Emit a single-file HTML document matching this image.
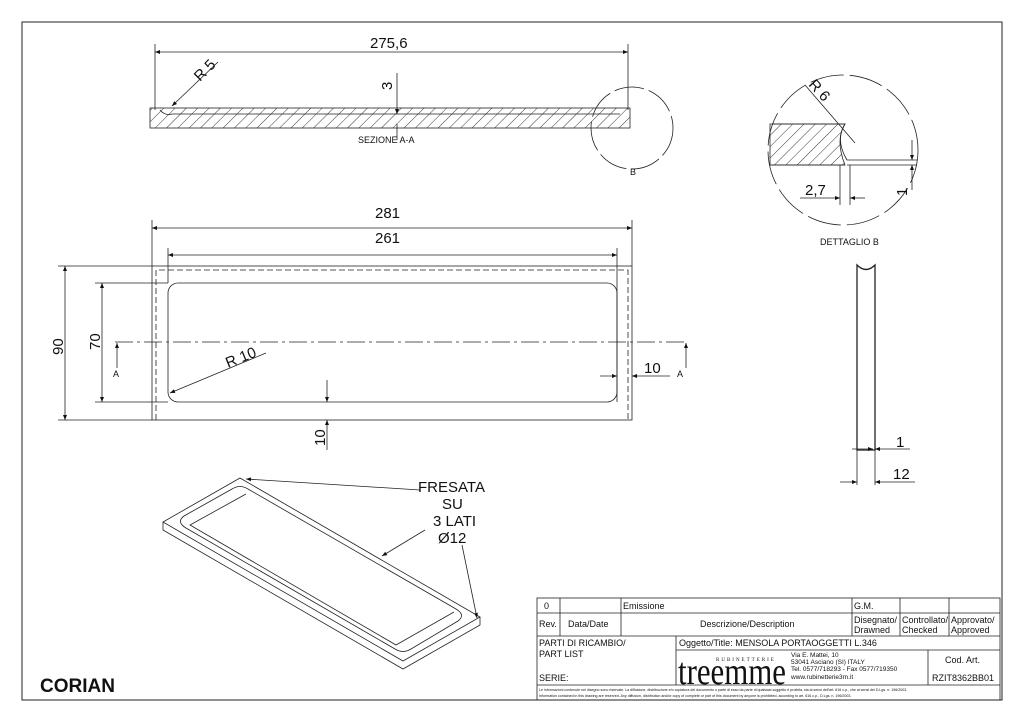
<!DOCTYPE html>
<html><head><meta charset="utf-8"><style>
html,body{margin:0;padding:0;background:#fff;}
svg{display:block;}
text{font-family:"Liberation Sans",sans-serif;fill:#111;}
</style></head><body>
<svg width="1024" height="723" viewBox="0 0 1024 723" xmlns="http://www.w3.org/2000/svg">
<defs>
<marker id="ar" viewBox="0 0 10 10" refX="10" refY="5" markerWidth="9" markerHeight="5" orient="auto-start-reverse" markerUnits="userSpaceOnUse"><path d="M0,1 L10,5 L0,9 Z" fill="#111"/></marker>
<pattern id="h" width="8" height="8" patternUnits="userSpaceOnUse" patternTransform="rotate(45)"><line x1="0" y1="0" x2="0" y2="8" stroke="#222" stroke-width="0.9"/></pattern>
</defs>
<rect x="22" y="22" width="980" height="678" fill="none" stroke="#222" stroke-width="1"/>
<g stroke="#222" stroke-width="0.8" fill="none">
<line x1="155" y1="44" x2="155" y2="110"/><line x1="628" y1="44" x2="628" y2="110"/>
<line x1="155" y1="52" x2="628" y2="52" marker-start="url(#ar)" marker-end="url(#ar)"/>
<rect x="150" y="108" width="480" height="20" fill="url(#h)"/>
<path d="M160,110 Q165,116 172,114 L620,114" />
<line x1="397" y1="73" x2="397" y2="114" marker-end="url(#ar)"/>
<line x1="397" y1="140" x2="397" y2="124"/>
<line x1="218" y1="62" x2="172" y2="106" marker-end="url(#ar)"/>
<circle cx="632" cy="128" r="41" stroke-dasharray="30,5"/>
<circle cx="843" cy="150" r="75" stroke-dasharray="34,6"/>
<path d="M770,124 L845,124 Q835,140 845,165 L770,165 Z" fill="url(#h)"/>
<path d="M772,124 L845,124 Q835,140 847,160 L917,160 M847,165 L917,165 M770,165 L845,165"/>
<line x1="805" y1="85" x2="855" y2="143"/>
<line x1="840" y1="165" x2="840" y2="205"/><line x1="850" y1="165" x2="850" y2="205"/>
<line x1="800" y1="198" x2="840" y2="198" marker-end="url(#ar)"/><line x1="865" y1="198" x2="850" y2="198" marker-end="url(#ar)"/>
<line x1="912" y1="140" x2="912" y2="160" marker-end="url(#ar)"/><line x1="912" y1="190" x2="912" y2="165" marker-end="url(#ar)"/>
<rect x="152" y="266" width="480" height="154"/>
<path d="M156,420 L156,270 L628,270 L628,420" stroke-dasharray="6,3"/>
<rect x="168" y="283" width="449" height="119" rx="10"/>
<line x1="152" y1="220" x2="152" y2="266"/><line x1="632" y1="220" x2="632" y2="266"/>
<line x1="152" y1="228" x2="632" y2="228" marker-start="url(#ar)" marker-end="url(#ar)"/>
<line x1="168" y1="248" x2="168" y2="283"/><line x1="617" y1="248" x2="617" y2="402"/>
<line x1="168" y1="255" x2="617" y2="255" marker-start="url(#ar)" marker-end="url(#ar)"/>
<line x1="58" y1="266" x2="152" y2="266"/><line x1="58" y1="420" x2="152" y2="420"/>
<line x1="65" y1="266" x2="65" y2="420" marker-start="url(#ar)" marker-end="url(#ar)"/>
<line x1="95" y1="283" x2="168" y2="283"/><line x1="95" y1="402" x2="168" y2="402"/>
<line x1="102" y1="283" x2="102" y2="402" marker-start="url(#ar)" marker-end="url(#ar)"/>
<line x1="115" y1="342" x2="686" y2="342" stroke-dasharray="18,4,3,4"/>
<line x1="117" y1="368" x2="117" y2="343" marker-end="url(#ar)"/>
<line x1="686" y1="368" x2="686" y2="343" marker-end="url(#ar)"/>
<line x1="266" y1="353" x2="170" y2="393" marker-end="url(#ar)"/>
<line x1="327" y1="380" x2="327" y2="402" marker-end="url(#ar)"/>
<line x1="327" y1="450" x2="327" y2="420" marker-end="url(#ar)"/>
<line x1="600" y1="376" x2="617" y2="376" marker-end="url(#ar)"/>
<line x1="670" y1="376" x2="632" y2="376" marker-end="url(#ar)"/>
<path d="M857,265 Q866,274 875,265 L875,450 L857,450 Z" stroke-width="1.3"/>
<line x1="857" y1="450" x2="857" y2="485"/><line x1="875" y1="450" x2="875" y2="485"/>
<line x1="852" y1="449" x2="873" y2="449" marker-end="url(#ar)"/><line x1="910" y1="449" x2="875" y2="449" marker-end="url(#ar)"/>
<line x1="840" y1="482" x2="857" y2="482" marker-end="url(#ar)"/><line x1="915" y1="482" x2="875" y2="482" marker-end="url(#ar)"/>
<path d="M240,478 L480,617 L403,661 L163,522 Z"/>
<path d="M163,522 L163,530 L403,669 L480,625 L480,617"/>
<path d="M248,489 Q240,484 232,489 L184,516 Q176,522 186,528 L395,649 Q403,654 411,649 L458,621 Q466,615 456,609 Z"/>
<path d="M246,494 L190,525 L396,645 L454,612"/>
<line x1="420" y1="490" x2="246" y2="479" marker-end="url(#ar)"/>
<line x1="425" y1="530" x2="382" y2="556" marker-end="url(#ar)"/>
<line x1="462" y1="545" x2="477" y2="618" marker-end="url(#ar)"/>
<rect x="537" y="598" width="463" height="102"/>
<line x1="537" y1="613" x2="1000" y2="613"/><line x1="537" y1="636" x2="1000" y2="636"/>
<line x1="676" y1="650" x2="1000" y2="650"/><line x1="537" y1="685" x2="1000" y2="685"/>
<line x1="560" y1="598" x2="560" y2="636"/><line x1="621" y1="598" x2="621" y2="636"/>
<line x1="852" y1="598" x2="852" y2="636"/><line x1="900" y1="598" x2="900" y2="636"/><line x1="949" y1="598" x2="949" y2="636"/>
<line x1="676" y1="636" x2="676" y2="685"/><line x1="928" y1="650" x2="928" y2="685"/>
</g>
<g font-size="15">
<text x="370" y="48">275,6</text>
<text x="0" y="0" transform="translate(200,82) rotate(-45)">R 5</text>
<text x="0" y="0" transform="translate(392,90) rotate(-90)">3</text>
<text x="0" y="0" transform="translate(808,85) rotate(48)">R 6</text>
<text x="805" y="195">2,7</text>
<text x="0" y="0" transform="translate(907,196) rotate(-90)">1</text>
<text x="375" y="218">281</text>
<text x="375" y="243">261</text>
<text x="0" y="0" transform="translate(63,355) rotate(-90)">90</text>
<text x="0" y="0" transform="translate(100,350) rotate(-90)">70</text>
<text x="0" y="0" transform="translate(228,368) rotate(-22)">R 10</text>
<text x="0" y="0" transform="translate(325,446) rotate(-90)">10</text>
<text x="644" y="373">10</text>
<text x="896" y="447">1</text>
<text x="893" y="479">12</text>
<text x="418" y="492">FRESATA</text>
<text x="442" y="509">SU</text>
<text x="433" y="526">3 LATI</text>
<text x="438" y="543">Ø12</text>
</g>
<g font-size="9">
<text x="358" y="143">SEZIONE A-A</text>
<text x="630" y="175">B</text>
<text x="820" y="245">DETTAGLIO B</text>
<text x="113" y="377">A</text>
<text x="677" y="377">A</text>
</g>
<text x="40" y="692" font-size="19" font-weight="bold">CORIAN</text>
<g font-size="9">
<text x="544" y="609">0</text>
<text x="623" y="609">Emissione</text>
<text x="854" y="609">G.M.</text>
<text x="539" y="627">Rev.</text>
<text x="568" y="627">Data/Date</text>
<text x="700" y="627">Descrizione/Description</text>
<text x="854" y="623">Disegnato/</text><text x="854" y="633">Drawned</text>
<text x="902" y="623">Controllato/</text><text x="902" y="633">Checked</text>
<text x="951" y="623">Approvato/</text><text x="951" y="633">Approved</text>
<text x="539" y="646">PARTI DI RICAMBIO/</text>
<text x="539" y="657">PART LIST</text>
<text x="539" y="681">SERIE:</text>
<text x="679" y="646">Oggetto/Title: MENSOLA PORTAOGGETTI L.346</text>
<text x="945" y="663">Cod. Art.</text>
<text x="932" y="681">RZIT8362BB01</text>
</g>
<text x="678" y="684" font-size="38" textLength="108" lengthAdjust="spacingAndGlyphs" style="font-family:'Liberation Serif',serif">treemme</text>
<text x="716" y="661" font-size="5" letter-spacing="2" style="font-family:'Liberation Serif',serif">RUBINETTERIE</text>
<g font-size="6.5">
<text x="791" y="657">Via E. Mattei, 10</text>
<text x="791" y="664">53041 Asciano (SI) ITALY</text>
<text x="791" y="671">Tel. 0577/718293 - Fax 0577/719350</text>
<text x="791" y="679">www.rubinetterie3m.it</text>
</g>
<g font-size="3.6">
<text x="539" y="691">Le informazioni contenute nel disegno sono riservate. La diffusione, distribuzione e/o copiatura del documento o parte di esso da parte di qualsiasi soggetto è proibita, sia ai sensi dell'art. 616 c.p., che ai sensi del D.Lgs. n. 196/2003.</text>
<text x="539" y="697">Information contained in this drawing are reserved. Any diffusion, distribution and/or copy of complete or part of this document by anyone is prohibited, according to art. 616 c.p., D.Lgs. n. 196/2003.</text>
</g>
</svg>
</body></html>
